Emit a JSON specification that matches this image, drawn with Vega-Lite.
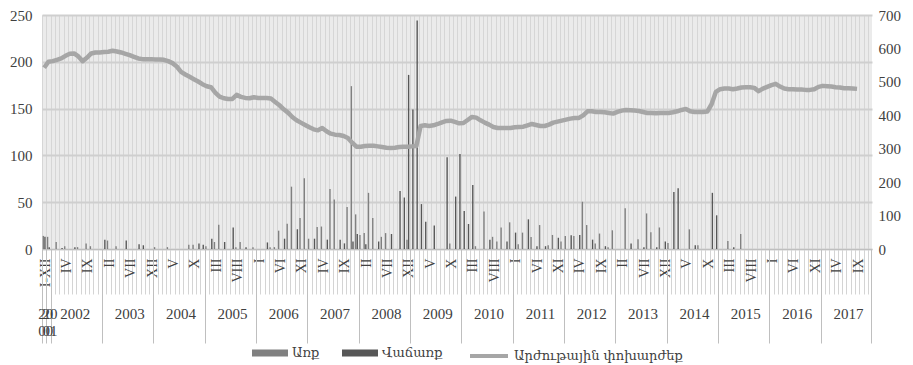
{
 "$schema": "https://vega.github.io/schema/vega-lite/v6.json",
 "width": 830,
 "height": 234,
 "autosize": {"type": "none"},
 "padding": {"left": 42, "top": 15, "right": 41, "bottom": 116},
 "background": "white",
 "config": {"view": {"stroke": null, "fill": "#ebebeb"}, "font": "Liberation Serif"},
 "data": {"values": [
  {"k":"000|2000|I-XII","b":14,"s":13,"r":542},
  {"k":"001|2001|I-XII","b":13,"s":2,"r":560},
  {"k":"002|2002|I","b":0,"s":0,"r":562},
  {"k":"003|2002|II","b":7.5,"s":0,"r":566},
  {"k":"004|2002|III","b":0,"s":1,"r":570},
  {"k":"005|2002|IV","b":3,"s":0,"r":578},
  {"k":"006|2002|V","b":0,"s":0,"r":584},
  {"k":"007|2002|VI","b":0,"s":2,"r":585},
  {"k":"008|2002|VII","b":2,"s":0,"r":576},
  {"k":"009|2002|VIII","b":0,"s":0,"r":562},
  {"k":"010|2002|IX","b":6,"s":0,"r":572},
  {"k":"011|2002|X","b":3,"s":0,"r":585},
  {"k":"012|2002|XI","b":0,"s":0,"r":588},
  {"k":"013|2002|XII","b":0,"s":0,"r":588},
  {"k":"014|2003|I","b":0,"s":10,"r":589},
  {"k":"015|2003|II","b":9,"s":0,"r":590},
  {"k":"016|2003|III","b":0,"s":0,"r":593},
  {"k":"017|2003|IV","b":3,"s":0,"r":591},
  {"k":"018|2003|V","b":0,"s":0,"r":588},
  {"k":"019|2003|VI","b":0,"s":9,"r":584},
  {"k":"020|2003|VII","b":0,"s":0,"r":580},
  {"k":"021|2003|VIII","b":0,"s":0,"r":575},
  {"k":"022|2003|IX","b":0,"s":5,"r":570},
  {"k":"023|2003|X","b":0,"s":4,"r":568},
  {"k":"024|2003|XI","b":0,"s":0,"r":568},
  {"k":"025|2003|XII","b":0,"s":0,"r":568},
  {"k":"026|2004|I","b":2,"s":0,"r":567},
  {"k":"027|2004|II","b":0,"s":0,"r":567},
  {"k":"028|2004|III","b":0,"s":0,"r":566},
  {"k":"029|2004|IV","b":2,"s":0,"r":562},
  {"k":"030|2004|V","b":0,"s":0,"r":556},
  {"k":"031|2004|VI","b":0,"s":0,"r":546},
  {"k":"032|2004|VII","b":0,"s":0,"r":530},
  {"k":"033|2004|VIII","b":0,"s":0,"r":522},
  {"k":"034|2004|IX","b":4.5,"s":0,"r":515},
  {"k":"035|2004|X","b":4.5,"s":0,"r":508},
  {"k":"036|2004|XI","b":0,"s":6,"r":501},
  {"k":"037|2004|XII","b":0,"s":4.5,"r":493},
  {"k":"038|2005|I","b":3,"s":0,"r":487},
  {"k":"039|2005|II","b":0,"s":11,"r":484},
  {"k":"040|2005|III","b":7.5,"s":0,"r":468},
  {"k":"041|2005|IV","b":26,"s":0,"r":456},
  {"k":"042|2005|V","b":0,"s":7.5,"r":451},
  {"k":"043|2005|VI","b":0,"s":0,"r":449},
  {"k":"044|2005|VII","b":0,"s":23,"r":449},
  {"k":"045|2005|VIII","b":2,"s":0,"r":461},
  {"k":"046|2005|IX","b":7.5,"s":0,"r":455},
  {"k":"047|2005|X","b":0,"s":2,"r":452},
  {"k":"048|2005|XI","b":0,"s":0,"r":451},
  {"k":"049|2005|XII","b":2,"s":0,"r":454},
  {"k":"050|2006|I","b":0,"s":0,"r":452},
  {"k":"051|2006|II","b":0,"s":0,"r":452},
  {"k":"052|2006|III","b":0,"s":7,"r":452},
  {"k":"053|2006|IV","b":2,"s":0,"r":450},
  {"k":"054|2006|V","b":2,"s":0,"r":440},
  {"k":"055|2006|VI","b":19.6,"s":0,"r":430},
  {"k":"056|2006|VII","b":0,"s":11,"r":418},
  {"k":"057|2006|VIII","b":27,"s":0,"r":408},
  {"k":"058|2006|IX","b":66.6,"s":0,"r":395},
  {"k":"059|2006|X","b":0,"s":21,"r":385},
  {"k":"060|2006|XI","b":33,"s":0,"r":378},
  {"k":"061|2006|XII","b":75.6,"s":0,"r":371},
  {"k":"062|2007|I","b":11,"s":0,"r":364},
  {"k":"063|2007|II","b":0,"s":11,"r":358},
  {"k":"064|2007|III","b":23.5,"s":0,"r":355},
  {"k":"065|2007|IV","b":24,"s":0,"r":362},
  {"k":"066|2007|V","b":0,"s":10,"r":352},
  {"k":"067|2007|VI","b":64,"s":0,"r":345},
  {"k":"068|2007|VII","b":53,"s":0,"r":342},
  {"k":"069|2007|VIII","b":0,"s":10,"r":341},
  {"k":"070|2007|IX","b":0,"s":6,"r":338},
  {"k":"071|2007|X","b":45,"s":0,"r":332},
  {"k":"072|2007|XI","b":174,"s":8,"r":318},
  {"k":"073|2007|XII","b":37,"s":16,"r":306},
  {"k":"074|2008|I","b":15,"s":0,"r":306},
  {"k":"075|2008|II","b":17,"s":5,"r":308},
  {"k":"076|2008|III","b":60,"s":0,"r":309},
  {"k":"077|2008|IV","b":33,"s":0,"r":309},
  {"k":"078|2008|V","b":0,"s":8,"r":307},
  {"k":"079|2008|VI","b":13,"s":0,"r":305},
  {"k":"080|2008|VII","b":17,"s":0,"r":303},
  {"k":"081|2008|VIII","b":0,"s":16,"r":302},
  {"k":"082|2008|IX","b":0,"s":0,"r":303},
  {"k":"083|2008|X","b":0,"s":62,"r":305},
  {"k":"084|2008|XI","b":0,"s":55,"r":306},
  {"k":"085|2008|XII","b":10,"s":186,"r":306},
  {"k":"086|2009|I","b":0,"s":149,"r":307},
  {"k":"087|2009|II","b":0,"s":244,"r":308},
  {"k":"088|2009|III","b":0,"s":48,"r":368},
  {"k":"089|2009|IV","b":0,"s":29,"r":370},
  {"k":"090|2009|V","b":0,"s":0,"r":368},
  {"k":"091|2009|VI","b":0,"s":25,"r":370},
  {"k":"092|2009|VII","b":0,"s":0,"r":374},
  {"k":"093|2009|VIII","b":0,"s":0,"r":379},
  {"k":"094|2009|IX","b":0,"s":98,"r":383},
  {"k":"095|2009|X","b":6,"s":0,"r":384},
  {"k":"096|2009|XI","b":0,"s":56,"r":380},
  {"k":"097|2009|XII","b":0,"s":101.5,"r":376},
  {"k":"098|2010|I","b":0,"s":40.6,"r":377},
  {"k":"099|2010|II","b":0,"s":26.7,"r":386},
  {"k":"100|2010|III","b":0,"s":68.4,"r":395},
  {"k":"101|2010|IV","b":3,"s":0,"r":393},
  {"k":"102|2010|V","b":0,"s":0,"r":385},
  {"k":"103|2010|VI","b":40,"s":0,"r":378},
  {"k":"104|2010|VII","b":0,"s":10,"r":372},
  {"k":"105|2010|VIII","b":13,"s":0,"r":365},
  {"k":"106|2010|IX","b":8,"s":0,"r":362},
  {"k":"107|2010|X","b":23,"s":0,"r":362},
  {"k":"108|2010|XI","b":0,"s":8,"r":362},
  {"k":"109|2010|XII","b":28.5,"s":0,"r":362},
  {"k":"110|2011|I","b":0,"s":17.5,"r":364},
  {"k":"111|2011|II","b":5,"s":0,"r":365},
  {"k":"112|2011|III","b":17.5,"s":0,"r":366},
  {"k":"113|2011|IV","b":0,"s":31.7,"r":370},
  {"k":"114|2011|V","b":12.7,"s":0,"r":374},
  {"k":"115|2011|VI","b":0,"s":3,"r":371},
  {"k":"116|2011|VII","b":25.6,"s":0,"r":368},
  {"k":"117|2011|VIII","b":0,"s":3,"r":368},
  {"k":"118|2011|IX","b":4,"s":0,"r":372},
  {"k":"119|2011|X","b":15,"s":0,"r":378},
  {"k":"120|2011|XI","b":0,"s":12,"r":381},
  {"k":"121|2011|XII","b":8,"s":0,"r":384},
  {"k":"122|2012|I","b":14,"s":0,"r":387},
  {"k":"123|2012|II","b":0,"s":14.6,"r":390},
  {"k":"124|2012|III","b":14,"s":0,"r":392},
  {"k":"125|2012|IV","b":0,"s":15,"r":392},
  {"k":"126|2012|V","b":50.5,"s":0,"r":400},
  {"k":"127|2012|VI","b":25.6,"s":0,"r":412},
  {"k":"128|2012|VII","b":0,"s":10,"r":412},
  {"k":"129|2012|VIII","b":6,"s":0,"r":410},
  {"k":"130|2012|IX","b":16.5,"s":0,"r":410},
  {"k":"131|2012|X","b":0,"s":3,"r":409},
  {"k":"132|2012|XI","b":2,"s":0,"r":407},
  {"k":"133|2012|XII","b":20,"s":0,"r":405},
  {"k":"134|2013|I","b":0,"s":0,"r":410},
  {"k":"135|2013|II","b":0,"s":0,"r":414},
  {"k":"136|2013|III","b":43.5,"s":0,"r":416},
  {"k":"137|2013|IV","b":0,"s":6,"r":415},
  {"k":"138|2013|V","b":0,"s":0,"r":414},
  {"k":"139|2013|VI","b":10.5,"s":0,"r":413},
  {"k":"140|2013|VII","b":0,"s":2,"r":410},
  {"k":"141|2013|VIII","b":38,"s":0,"r":407},
  {"k":"142|2013|IX","b":18,"s":0,"r":407},
  {"k":"143|2013|X","b":0,"s":2,"r":406},
  {"k":"144|2013|XI","b":23,"s":0,"r":407},
  {"k":"145|2013|XII","b":0,"s":8,"r":407},
  {"k":"146|2014|I","b":6.5,"s":0,"r":407},
  {"k":"147|2014|II","b":0,"s":61,"r":409},
  {"k":"148|2014|III","b":0,"s":65,"r":412},
  {"k":"149|2014|IV","b":0,"s":0,"r":416},
  {"k":"150|2014|V","b":0,"s":0,"r":419},
  {"k":"151|2014|VI","b":21,"s":0,"r":412},
  {"k":"152|2014|VII","b":0,"s":4,"r":410},
  {"k":"153|2014|VIII","b":4,"s":0,"r":410},
  {"k":"154|2014|IX","b":0,"s":0,"r":410},
  {"k":"155|2014|X","b":0,"s":0,"r":411},
  {"k":"156|2014|XI","b":0,"s":60,"r":433},
  {"k":"157|2014|XII","b":0,"s":36,"r":470},
  {"k":"158|2015|I","b":0,"s":0,"r":478},
  {"k":"159|2015|II","b":0,"s":0,"r":480},
  {"k":"160|2015|III","b":8.5,"s":0,"r":480},
  {"k":"161|2015|IV","b":0,"s":2,"r":478},
  {"k":"162|2015|V","b":0,"s":0,"r":480},
  {"k":"163|2015|VI","b":16,"s":0,"r":483},
  {"k":"164|2015|VII","b":0,"s":0,"r":484},
  {"k":"165|2015|VIII","b":0,"s":0,"r":484},
  {"k":"166|2015|IX","b":0,"s":0,"r":482},
  {"k":"167|2015|X","b":0,"s":0,"r":472},
  {"k":"168|2015|XI","b":0,"s":0,"r":480},
  {"k":"169|2015|XII","b":0,"s":0,"r":485},
  {"k":"170|2016|I","b":0,"s":0,"r":490},
  {"k":"171|2016|II","b":0,"s":0,"r":494},
  {"k":"172|2016|III","b":0,"s":0,"r":486},
  {"k":"173|2016|IV","b":0,"s":0,"r":480},
  {"k":"174|2016|V","b":0,"s":0,"r":478},
  {"k":"175|2016|VI","b":0,"s":0,"r":478},
  {"k":"176|2016|VII","b":0,"s":0,"r":477},
  {"k":"177|2016|VIII","b":0,"s":0,"r":477},
  {"k":"178|2016|IX","b":0,"s":0,"r":476},
  {"k":"179|2016|X","b":0,"s":0,"r":476},
  {"k":"180|2016|XI","b":0,"s":0,"r":478},
  {"k":"181|2016|XII","b":0,"s":0,"r":485},
  {"k":"182|2017|I","b":0,"s":0,"r":488},
  {"k":"183|2017|II","b":0,"s":0,"r":487},
  {"k":"184|2017|III","b":0,"s":0,"r":486},
  {"k":"185|2017|IV","b":0,"s":0,"r":484},
  {"k":"186|2017|V","b":0,"s":0,"r":483},
  {"k":"187|2017|VI","b":0,"s":0,"r":481},
  {"k":"188|2017|VII","b":0,"s":0,"r":481},
  {"k":"189|2017|VIII","b":0,"s":0,"r":480},
  {"k":"190|2017|IX","b":0,"s":0,"r":479},
  {"k":"191|2017|X","b":null,"s":null,"r":null},
  {"k":"192|2017|XI","b":null,"s":null,"r":null},
  {"k":"193|2017|XII","b":null,"s":null,"r":null}
 ]},
 "layer": [
  {
   "transform": [{"fold": ["b", "s"], "as": ["key", "v"]}],
   "mark": {"type": "bar"},
   "encoding": {
    "x": {
     "field": "k", "type": "ordinal", "sort": "ascending",
     "scale": {"paddingInner": 0.3, "paddingOuter": 0.15},
     "axis": {
      "orient": "bottom", "title": null, "bandPosition": 0, "labelOffset": 1.5,
      "labelExpr": "parseInt(split(datum.value,'|')[0]) % 5 == 0 ? split(datum.value,'|')[2] : ''",
      "labelAngle": -90, "labelFont": "Liberation Serif", "labelFontSize": 14, "labelColor": "#404040",
      "labelPadding": -36, "labelOverlap": false, "labelBound": false, "labelFlush": false,
      "ticks": true, "tickSize": 45, "tickColor": "#d4d4d4", "tickWidth": 1,
      "domain": true, "domainColor": "#bfbfbf", "domainWidth": 1,
      "grid": true, "gridColor": "#d6d6d6", "gridWidth": 1
     }
    },
    "xOffset": {"field": "key", "type": "nominal", "scale": {"domain": ["b", "s"], "paddingInner": 0.15}},
    "y": {
     "field": "v", "type": "quantitative", "scale": {"domain": [0, 250]},
     "axis": {"orient": "left", "title": null, "values": [0, 50, 100, 150, 200, 250], "grid": true, "gridColor": "#cfcfcf", "gridWidth": 2, "ticks": false, "domain": false, "labelFont": "Liberation Serif", "labelFontSize": 15, "labelColor": "#404040", "labelPadding": 10}
    },
    "fill": {
     "field": "key", "type": "nominal",
     "scale": {"domain": ["b", "s"], "range": ["#808080", "#575757"]},
     "legend": {"orient": "none", "legendX": 210, "legendY": 320, "direction": "horizontal", "title": null, "symbolType": "M-1,-0.2H1V0.2H-1Z", "symbolSize": 1296, "symbolStrokeWidth": 0, "labelExpr": "datum.label == 'b' ? 'Առք' : 'Վաճառք'", "labelFont": "DejaVu Serif", "labelFontSize": 13, "labelColor": "#404040", "labelLimit": 300, "columnPadding": 22, "labelOffset": 4, "padding": 0}
    }
   }
  },
  {
   "mark": {"type": "line", "strokeWidth": 4.5, "strokeJoin": "round"},
   "encoding": {
    "x": {
     "field": "k", "type": "ordinal", "sort": "ascending",
     "axis": {
      "orient": "bottom", "title": null, "bandPosition": 0,
      "labelExpr": "split(datum.value,'|')[0] == '000' ? ['20','00'] : split(datum.value,'|')[0] == '001' ? ['20','01'] : split(datum.value,'|')[2] == 'VII' ? split(datum.value,'|')[1] : ''",
      "labelOffset": {"condition": [{"test": "parseInt(split(datum.value,'|')[0]) < 2", "value": 1.5}, {"test": "split(datum.value,'|')[0] == '008'", "value": -3}], "value": 0},
      "labelAngle": 0, "labelAlign": "center", "labelBaseline": "top",
      "labelPadding": -37, "labelFont": "Liberation Serif", "labelFontSize": 15, "labelLineHeight": 17, "labelColor": "#404040",
      "labelOverlap": false, "labelBound": false, "labelFlush": false,
      "ticks": true, "tickSize": 94, "tickColor": "#bfbfbf", "tickWidth": 1,
      "tickOpacity": {"condition": {"test": "parseInt(split(datum.value,'|')[0]) < 3 || split(datum.value,'|')[2] == 'I'", "value": 1}, "value": 0},
      "domain": false, "grid": false
     }
    },
    "y": {
     "field": "r", "type": "quantitative", "scale": {"domain": [0, 700]},
     "axis": {"orient": "right", "title": null, "values": [0, 100, 200, 300, 400, 500, 600, 700], "grid": false, "ticks": false, "domain": false, "labelFont": "Liberation Serif", "labelFontSize": 15, "labelColor": "#404040", "labelPadding": 6}
    },
    "stroke": {
     "datum": "Արժութային փոխարժեք",
     "scale": {"range": ["#a6a6a6"]},
     "legend": {"orient": "none", "legendX": 426, "legendY": 320, "title": null, "symbolType": "stroke", "symbolSize": 1444, "symbolStrokeWidth": 4, "labelFont": "DejaVu Serif", "labelFontSize": 13, "labelColor": "#404040", "labelLimit": 400, "labelOffset": 4, "padding": 0}
    }
   }
  },
  {
   "mark": {"type": "point", "opacity": 0},
   "encoding": {
    "x": {
     "field": "k", "type": "ordinal", "sort": "ascending",
     "axis": {"orient": "bottom", "title": null, "bandPosition": 1, "labels": false, "ticks": true, "tickSize": 94, "tickColor": "#bfbfbf", "tickWidth": 1, "tickOpacity": {"condition": {"test": "split(datum.value,'|')[0] == '193'", "value": 1}, "value": 0}, "domain": false, "grid": false}
    },
    "y": {"field": "b", "type": "quantitative", "axis": null}
   }
  }
 ],
 "resolve": {"scale": {"y": "independent"}, "axis": {"x": "independent"}}
}
